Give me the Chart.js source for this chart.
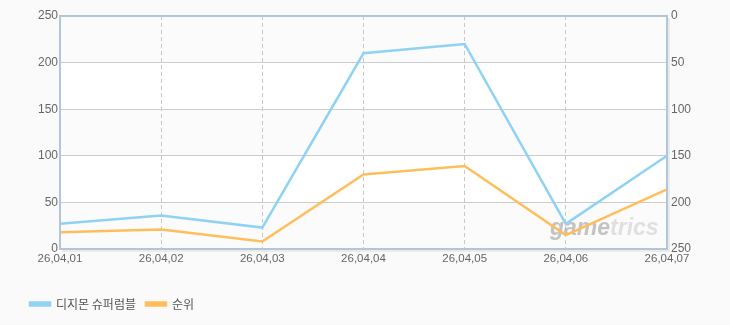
<!DOCTYPE html>
<html>
<head>
<meta charset="utf-8">
<script src="https://cdn.jsdelivr.net/npm/chart.js@4"></script>
<style>
  html, body { margin: 0; padding: 0; background: #fafafa; }
  #wrap { width: 730px; height: 325px; }
</style>
</head>
<body>
<div id="wrap"><canvas id="chart" width="730" height="325"></canvas></div>
<script>
// Chart data
const dates = ['26,04,01', '26,04,02', '26,04,03', '26,04,04', '26,04,05', '26,04,06', '26,04,07'];
const gameValues = [27, 36, 23, 210, 220, 27, 100];
const rankValues = [232, 229, 242, 170, 161, 235, 186];
const seriesNames = ['디지몬 슈퍼럼블', '순위'];
const axisTicks = [0, 50, 100, 150, 200, 250];

const BLUE = 'rgb(143, 210, 244)';
const ORANGE = 'rgb(255, 190, 92)';
const FRAME = '#b2c5d9';

// alternating background bands + frame around the plot
const plotBackground = {
  id: 'plotBackground',
  beforeDraw(chart) {
    const { ctx, chartArea: a, scales } = chart;
    const y = scales.y;
    ctx.save();
    ctx.fillStyle = '#ffffff';
    ctx.fillRect(a.left, a.top, a.right - a.left, a.bottom - a.top);
    ctx.fillStyle = '#fbfbfb';
    for (let i = 0; i < axisTicks.length - 1; i += 2) {
      const top = y.getPixelForValue(axisTicks[axisTicks.length - 1 - i]);
      const bottom = y.getPixelForValue(axisTicks[axisTicks.length - 2 - i]);
      ctx.fillRect(a.left, top, a.right - a.left, bottom - top);
    }
    ctx.restore();
  },
  afterDatasetsDraw(chart) {
    const { ctx, chartArea: a } = chart;
    ctx.save();
    // soft shadow below the bottom axis
    ctx.strokeStyle = 'rgba(0,0,0,0.06)';
    ctx.lineWidth = 2;
    ctx.beginPath();
    ctx.moveTo(a.left + 2, a.bottom + 2);
    ctx.lineTo(a.right + 2, a.bottom + 2);
    ctx.lineTo(a.right + 2, a.top + 2);
    ctx.stroke();
    ctx.strokeStyle = FRAME;
    ctx.lineWidth = 2;
    ctx.strokeRect(a.left, a.top, a.right - a.left, a.bottom - a.top);
    ctx.restore();
  }
};

// faint site watermark in the lower right corner
const watermark = {
  id: 'watermark',
  beforeDatasetsDraw(chart) {
    const { ctx, chartArea: a } = chart;
    ctx.save();
    ctx.font = 'italic bold 23px "Liberation Sans", Arial, sans-serif';
    ctx.textBaseline = 'alphabetic';
    const x = a.right - 117;
    const yPos = a.bottom - 14;
    ctx.fillStyle = 'rgba(150,150,150,0.55)';
    ctx.fillText('game', x, yPos);
    const w = ctx.measureText('game').width;
    ctx.fillStyle = 'rgba(190,190,190,0.45)';
    ctx.fillText('trics', x + w, yPos);
    ctx.restore();
  }
};

new Chart(document.getElementById('chart').getContext('2d'), {
  type: 'line',
  data: {
    labels: dates,
    datasets: [
      {
        label: seriesNames[0],
        data: gameValues,
        yAxisID: 'y',
        borderColor: BLUE,
        backgroundColor: BLUE,
        borderWidth: 2.5,
        pointRadius: 0,
        tension: 0
      },
      {
        label: seriesNames[1],
        data: rankValues,
        yAxisID: 'y1',
        borderColor: ORANGE,
        backgroundColor: ORANGE,
        borderWidth: 2.5,
        pointRadius: 0,
        tension: 0
      }
    ]
  },
  options: {
    responsive: false,
    animation: false,
    layout: { padding: { left: 20, right: 0, top: 16, bottom: 5 } },
    plugins: {
      tooltip: { enabled: false },
      legend: {
        position: 'bottom',
        align: 'start',
        labels: {
          boxWidth: 20,
          boxHeight: 3,
          padding: 10,
          color: '#555',
          font: { family: '"Noto Sans CJK KR", sans-serif', size: 12 }
        }
      }
    },
    scales: {
      x: {
        offset: false,
        grid: {
          color: '#c8c8c8',
          lineWidth: 1,
          drawTicks: false
        },
        border: { display: false, dash: [4, 3] },
        ticks: {
          color: '#666',
          padding: 3,
          maxRotation: 0,
          autoSkip: false,
          font: { family: '"Liberation Sans", Arial, sans-serif', size: 11.5 }
        },
        afterFit(scale) { scale.height = 39; }
      },
      y: {
        position: 'left',
        min: 0,
        max: 250,
        ticks: {
          stepSize: 50,
          color: '#666',
          padding: 2,
          font: { family: '"Liberation Sans", Arial, sans-serif', size: 12 }
        },
        grid: { color: '#cccccc', lineWidth: 1, drawTicks: false },
        border: { display: false },
        afterFit(scale) { scale.width = 40; }
      },
      y1: {
        position: 'right',
        reverse: true,
        min: 0,
        max: 250,
        ticks: {
          stepSize: 50,
          color: '#666',
          padding: 4,
          font: { family: '"Liberation Sans", Arial, sans-serif', size: 12 }
        },
        grid: { display: false, drawTicks: false },
        border: { display: false },
        afterFit(scale) { scale.width = 63; }
      }
    }
  },
  plugins: [plotBackground, watermark]
});
</script>
</body>
</html>
